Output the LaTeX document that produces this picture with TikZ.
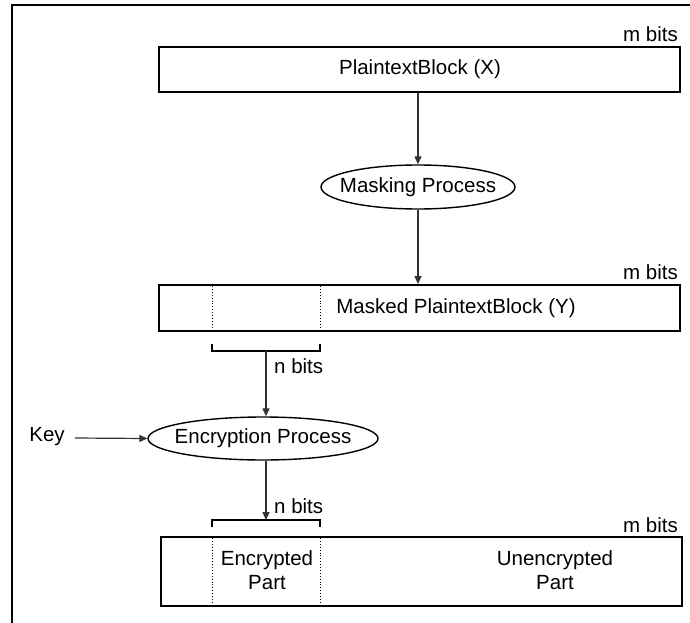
\documentclass[tikz,border=0pt]{standalone}
\usepackage{fontspec}
\setmainfont{Liberation Sans}
\usetikzlibrary{arrows.meta,shapes.geometric}
\begin{document}
\begin{tikzpicture}[x=1pt,y=-1pt,
  font=\fontsize{20.5}{24}\selectfont,
  block/.style={draw,line width=2pt},
  proc/.style={draw,ellipse,line width=1.4pt,inner sep=0pt},
  flow/.style={line width=1.2pt,draw=black!80,-{Triangle[length=8pt,width=7pt]}},
  brace/.style={line width=1.6pt},
  split/.style={line width=0.9pt,dotted},
  lbl/.style={inner sep=0pt}]
\useasboundingbox (0,0) rectangle (690,623);
% outer frame (top and left edges)
\draw[line width=2.5pt] (11,5) -- (692,5);
\draw[line width=2.5pt] (12,4) -- (12,625);

% plaintext block
\node[block,minimum width=521pt,minimum height=45pt,inner sep=0pt] (pb) at (419.5,69.5) {};
\node[lbl] (pbt) at (420,69) {PlaintextBlock (X)};
\node[lbl,anchor=east] (m1) at (678,34) {m bits};

% masking process (text boxed to zero width so the ellipse keeps its set size)
\node[proc,minimum width=194pt,minimum height=44pt] (mask) at (418,187) {\makebox[0pt]{Masking Process}};

% masked block
\node[block,minimum width=521pt,minimum height=46pt,inner sep=0pt] (mb) at (419.5,308) {};
\node[lbl] (mbt) at (456,308) {Masked PlaintextBlock (Y)};
\node[lbl,anchor=east] (m2) at (678,272) {m bits};
\draw[split] (212,286) -- (212,330);
\draw[split] (320,286) -- (320,330);

% n-bit selection bracket
\coordinate (b1l) at (212,344);
\coordinate (b1r) at (320,344);
\coordinate (b1m) at (266,351);
\draw[brace] (b1l) -- (212,351) -- (320,351) -- (b1r);
\node[lbl,anchor=west] (n1) at (274,366) {n bits};

% encryption process
\node[proc,minimum width=230pt,minimum height=43pt] (enc) at (263,438.5) {\makebox[0pt]{Encryption Process}};
\node[lbl] (key) at (47,437) {Key};
\draw[flow] (b1m) -- (enc.north -| b1m);
\draw[flow] (key.east) ++(10,1) -- (enc.west);

% output bracket
\coordinate (b2m) at (266,520);
\draw[brace] (212,527) -- (212,520) -- (320,520) -- (320,527);
\draw[flow] (enc.south -| b2m) -- (b2m);
\node[lbl,anchor=west] (n2) at (274,506) {n bits};

% output block
\node[block,minimum width=521pt,minimum height=69pt,inner sep=0pt] (ob) at (421,571.5) {};
\node[lbl,anchor=east] (m3) at (678,525) {m bits};
\draw[split] (212,538) -- (212,605);
\draw[split] (320,538) -- (320,605);
\node[lbl,align=center] (encp) at (267,570) {Encrypted\\Part};
\node[lbl,align=center] (unp) at (555,570) {Unencrypted\\Part};

% main flow
\draw[flow] (pb.south -| mask) -- (mask.north);
\draw[flow] (mask.south) -- (mb.north -| mask);
\end{tikzpicture}
\end{document}
